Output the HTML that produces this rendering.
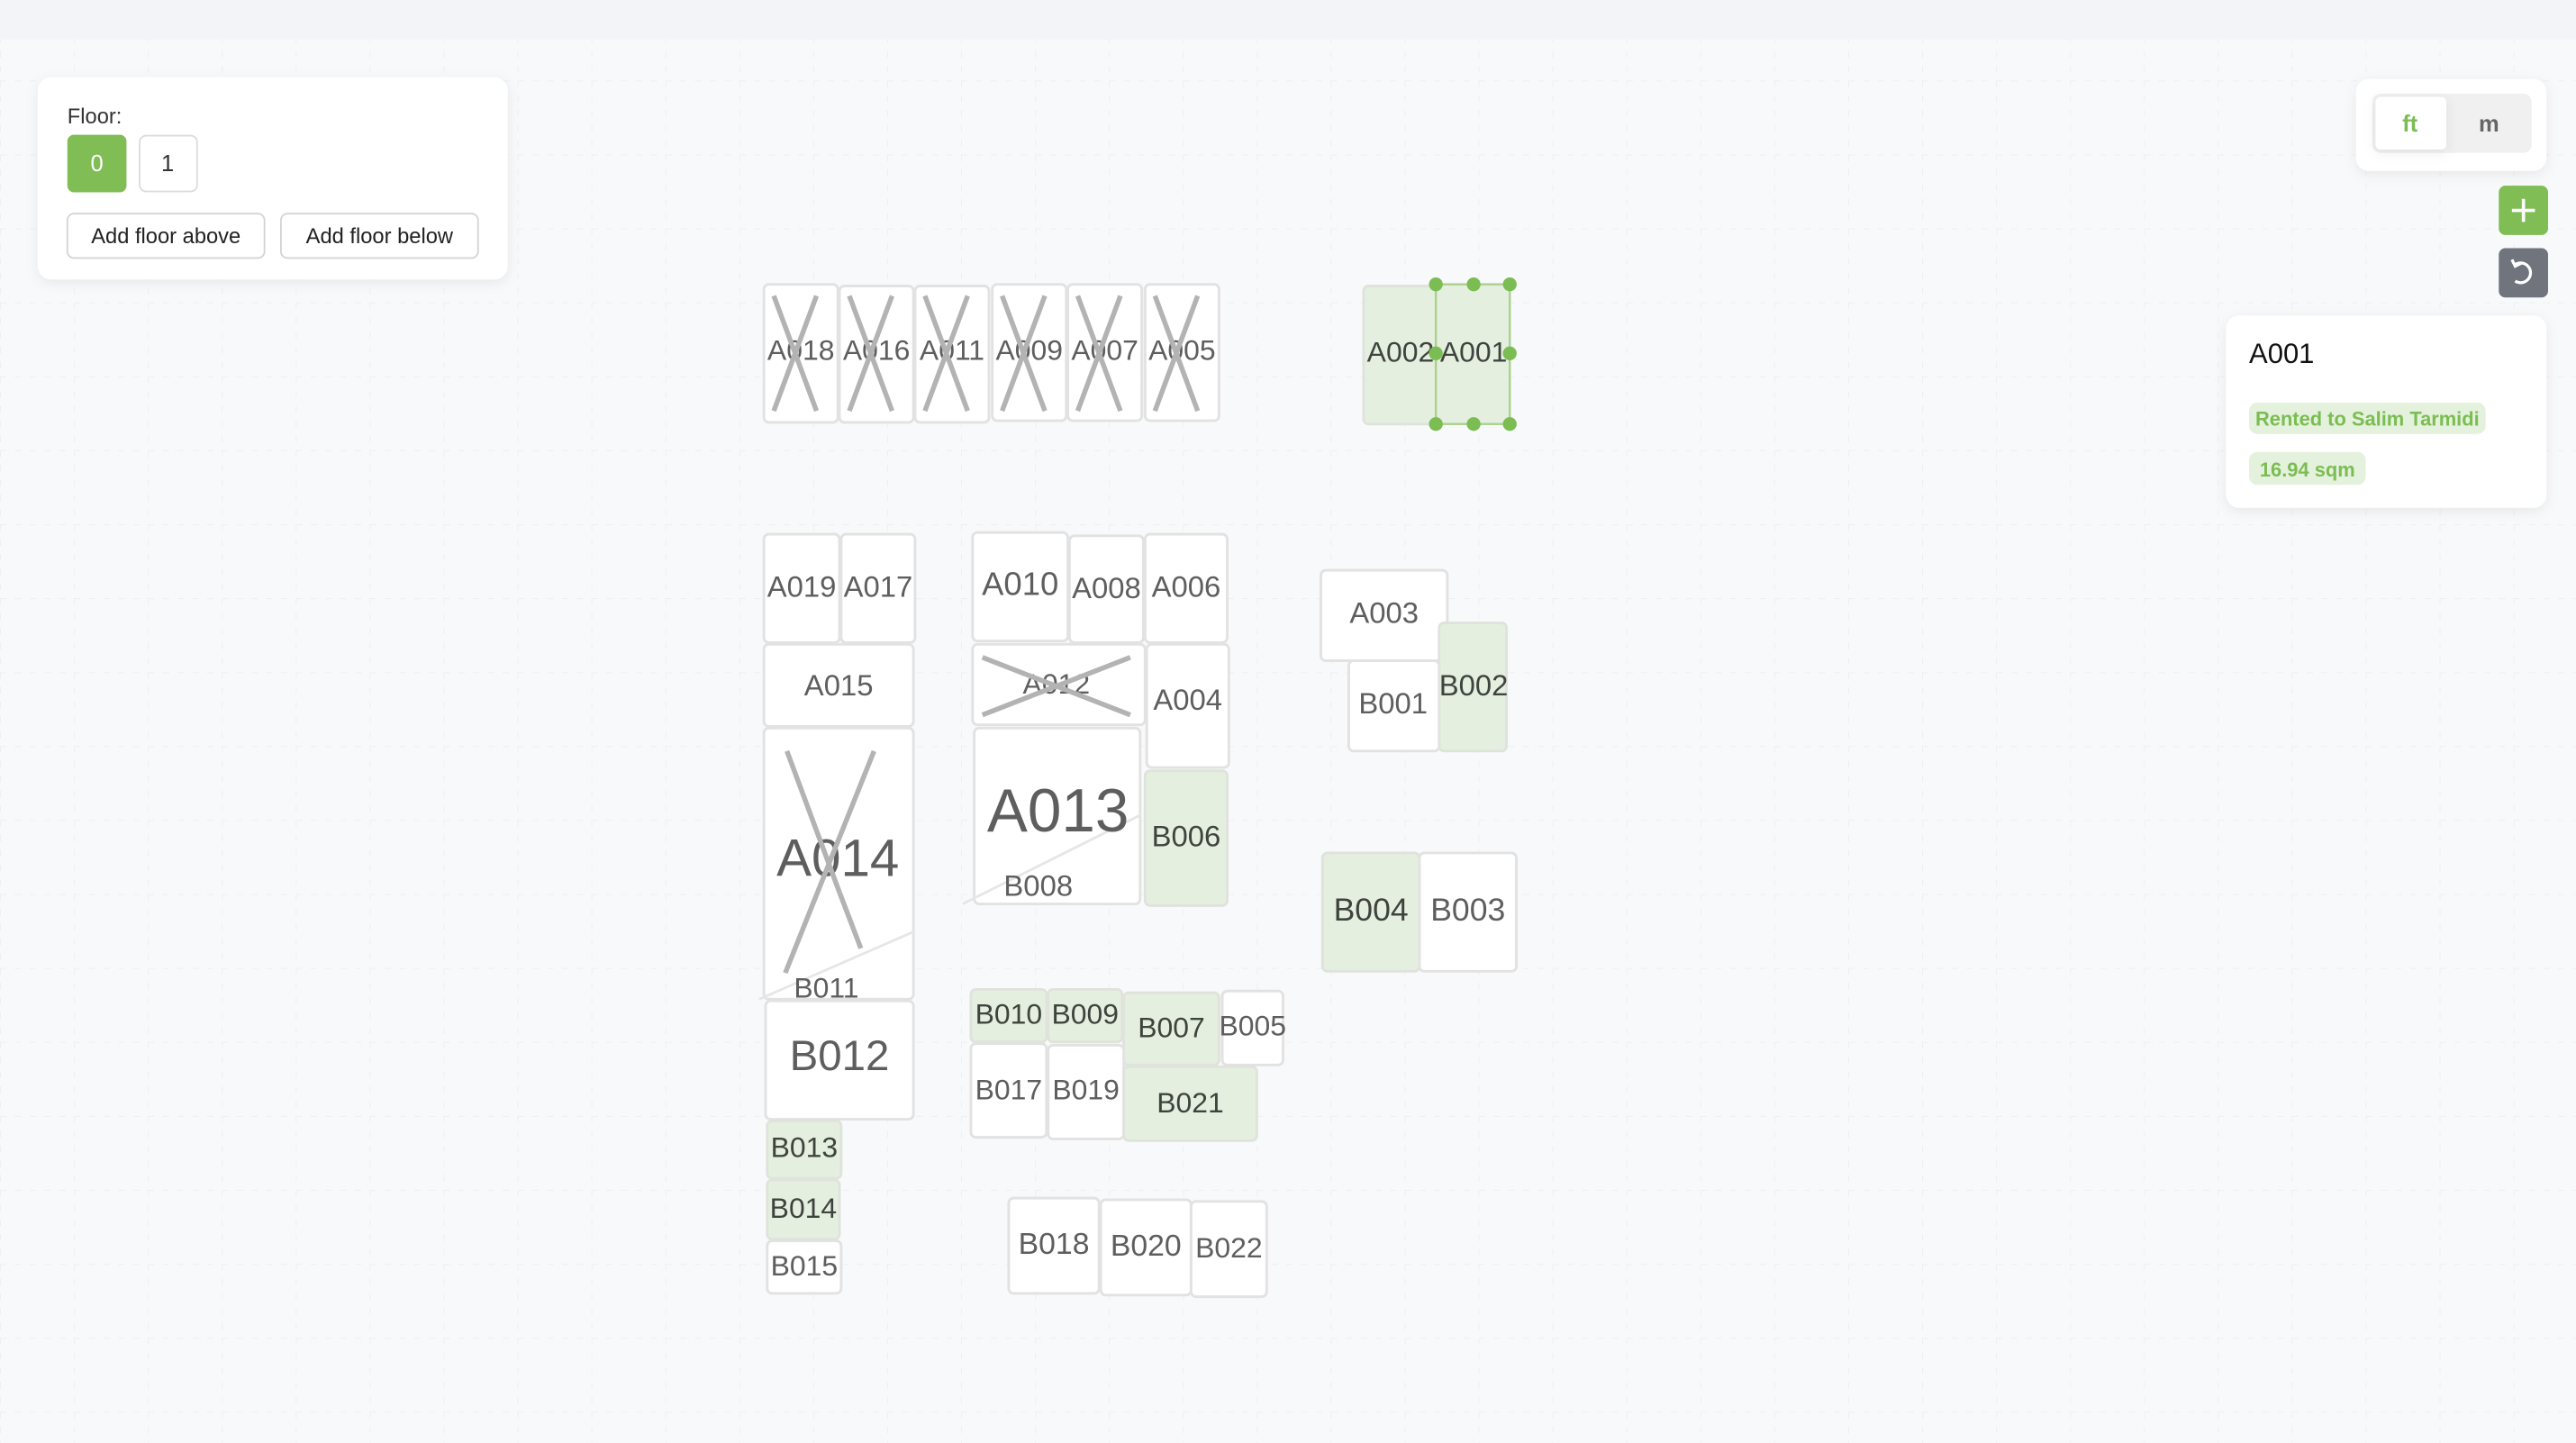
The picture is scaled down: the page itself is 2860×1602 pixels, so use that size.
<!DOCTYPE html>
<html><head><meta charset="utf-8"><style>
html,body{margin:0;padding:0;background:#f8f9fb;}
svg{display:block}
.r{fill:#fff;stroke:#e2e2e2;stroke-width:1.6}
.g{fill:#e5efdf;stroke:#dfe3dc;stroke-width:1.6}
.t{font-family:"Liberation Sans",sans-serif;fill:#5e5e5e;text-anchor:middle}
.tg{font-family:"Liberation Sans",sans-serif;fill:#3f433e;text-anchor:middle}
.x{stroke:#b3b3b3;stroke-width:3;fill:none}
.ui{font-family:"Liberation Sans",sans-serif}
</style></head><body>
<svg width="2860" height="1602" viewBox="0 0 1568 878" preserveAspectRatio="none" xmlns="http://www.w3.org/2000/svg">
<defs>
<pattern id="grid" width="45" height="45" patternUnits="userSpaceOnUse" x="0" y="4">
<path d="M0 0H45M0 0V45" stroke="#eceef2" stroke-width="1" stroke-dasharray="4 5" fill="none"/>
</pattern>
<filter id="sh" x="-20%" y="-20%" width="140%" height="150%"><feDropShadow dx="0" dy="2" stdDeviation="4" flood-color="#000" flood-opacity="0.07"/></filter>
</defs>
<rect width="1568" height="878" fill="#f8f9fb"/>
<rect width="1568" height="878" fill="url(#grid)"/>
<rect width="1568" height="24" fill="#f3f4f7"/>

<!-- floor panel -->
<rect x="23" y="47" width="286" height="123" rx="8" fill="#fff" filter="url(#sh)"/>
<text x="41" y="75" class="ui" font-size="13" fill="#333">Floor:</text>
<rect x="41" y="82" width="36" height="35" rx="4" fill="#80bd55"/>
<text x="59" y="104" class="ui" font-size="14" fill="#fff" text-anchor="middle">0</text>
<rect x="85" y="82.5" width="35" height="34" rx="4" fill="#fff" stroke="#dcdce0"/>
<text x="102" y="104" class="ui" font-size="14" fill="#333" text-anchor="middle">1</text>
<rect x="41" y="130" width="120" height="27" rx="4" fill="#fff" stroke="#d4d4d8"/>
<text x="101" y="148" class="ui" font-size="13" fill="#222" text-anchor="middle">Add floor above</text>
<rect x="171" y="130" width="120" height="27" rx="4" fill="#fff" stroke="#d4d4d8"/>
<text x="231" y="148" class="ui" font-size="13" fill="#222" text-anchor="middle">Add floor below</text>

<!-- unit toggle -->
<rect x="1434" y="48" width="116" height="56" rx="8" fill="#fff" filter="url(#sh)"/>
<rect x="1444" y="57" width="97" height="36" rx="5" fill="#f0f0f0"/>
<rect x="1446" y="59" width="43" height="32" rx="3" fill="#fff" filter="url(#sh)"/>
<text x="1467" y="80" class="ui" font-size="14" font-weight="bold" fill="#7bbd52" text-anchor="middle">ft</text>
<text x="1515" y="80" class="ui" font-size="14" font-weight="bold" fill="#666" text-anchor="middle">m</text>
<rect x="1521" y="113" width="30" height="30" rx="4" fill="#80bd55"/>
<path d="M1536 121V135M1529 128H1543" stroke="#fff" stroke-width="2"/>
<rect x="1521" y="151" width="30" height="30" rx="4" fill="#6f747d"/>
<path d="M1531 161 A6 6 0 1 1 1531 171" stroke="#fff" stroke-width="1.8" fill="none"/>
<path d="M1529 158 L1531 162 L1535 160" stroke="#fff" stroke-width="1.8" fill="none"/>

<!-- info card -->
<rect x="1355" y="192" width="195" height="117" rx="8" fill="#fff" filter="url(#sh)"/>
<text x="1369" y="221" class="ui" font-size="17" fill="#111">A001</text>
<rect x="1369" y="245" width="144" height="19" rx="5" fill="#e4f1dc"/>
<text x="1441" y="259" class="ui" font-size="12" font-weight="bold" fill="#7bbd52" text-anchor="middle">Rented to Salim Tarmidi</text>
<rect x="1369" y="275" width="71" height="20" rx="5" fill="#e4f1dc"/>
<text x="1404.5" y="290" class="ui" font-size="12" font-weight="bold" fill="#7bbd52" text-anchor="middle">16.94 sqm</text>

<!-- top row crossed -->
<g>
<rect class="r" x="465" y="173" width="45" height="84" rx="3"/>
<rect class="r" x="511" y="174" width="45" height="83" rx="3"/>
<rect class="r" x="557" y="174" width="45" height="83" rx="3"/>
<rect class="r" x="604" y="173" width="45" height="83" rx="3"/>
<rect class="r" x="650" y="173" width="45" height="83" rx="3"/>
<rect class="r" x="697" y="173" width="45" height="83" rx="3"/>
<text class="t" x="487.5" y="219" font-size="17.5">A018</text>
<text class="t" x="533.5" y="219" font-size="17.5">A016</text>
<text class="t" x="579.5" y="219" font-size="17.5">A011</text>
<text class="t" x="626.5" y="219" font-size="17.5">A009</text>
<text class="t" x="672.5" y="219" font-size="17.5">A007</text>
<text class="t" x="719.5" y="219" font-size="17.5">A005</text>
<path class="x" d="M471 180L497 250M497 180L471 250 M517 180L543 250M543 180L517 250 M563 180L589 250M589 180L563 250 M610 180L636 250M636 180L610 250 M656 180L682 250M682 180L656 250 M703 180L729 250M729 180L703 250"/>
</g>

<!-- A002 / A001 -->
<rect class="g" x="830" y="174" width="45" height="84" rx="3"/>
<rect x="874" y="173" width="45" height="85" fill="#e5efdf" stroke="#a9d18d" stroke-width="1.3"/>
<text class="tg" x="852.5" y="220" font-size="17.5">A002</text>
<text class="tg" x="897" y="220" font-size="17.5">A001</text>
<g fill="#7bbd52">
<circle cx="874" cy="173" r="4.2"/><circle cx="897" cy="173" r="4.2"/><circle cx="919" cy="173" r="4.2"/>
<circle cx="874" cy="215" r="4.2"/><circle cx="919" cy="215" r="4.2"/>
<circle cx="874" cy="258" r="4.2"/><circle cx="897" cy="258" r="4.2"/><circle cx="919" cy="258" r="4.2"/>
</g>

<!-- left column -->
<rect class="r" x="465" y="325" width="46" height="66" rx="3"/>
<rect class="r" x="512" y="325" width="45" height="66" rx="3"/>
<text class="t" x="488" y="363" font-size="18">A019</text>
<text class="t" x="534.5" y="363" font-size="18">A017</text>
<rect class="r" x="465" y="392" width="91" height="50" rx="3"/>
<text class="t" x="510.5" y="423" font-size="18">A015</text>
<rect class="r" x="465" y="443" width="91" height="165" rx="3"/>
<path d="M462 608L556 567" stroke="#e6e6e6" stroke-width="1.5"/>
<text class="t" x="510" y="533" font-size="32">A014</text>
<path class="x" d="M479 457L511 543M532 457L478 592"/>
<path class="x" d="M511 543L524 577"/>
<text class="t" x="503" y="607" font-size="17.5">B011</text>
<rect class="r" x="466" y="609" width="90" height="72" rx="3"/>
<text class="t" x="511" y="651" font-size="26">B012</text>
<rect class="g" x="467" y="682" width="45" height="35" rx="3"/>
<text class="tg" x="489.5" y="704" font-size="17.5">B013</text>
<rect class="g" x="467" y="718" width="44" height="36" rx="3"/>
<text class="tg" x="489" y="741" font-size="17.5">B014</text>
<rect class="r" x="467" y="755" width="45" height="32" rx="3"/>
<text class="t" x="489.5" y="776" font-size="17.5">B015</text>

<!-- middle block -->
<rect class="r" x="592" y="324" width="58" height="66" rx="3"/>
<text class="t" x="621" y="362" font-size="20">A010</text>
<rect class="r" x="651" y="326" width="45" height="65" rx="3"/>
<text class="t" x="673.5" y="364" font-size="18">A008</text>
<rect class="r" x="697" y="325" width="50" height="66" rx="3"/>
<text class="t" x="722" y="363" font-size="18">A006</text>
<rect class="r" x="592" y="392" width="105" height="49" rx="3"/>
<text class="t" x="643" y="422" font-size="17.5">A012</text>
<path class="x" d="M598 400L688 435M688 400L598 435"/>
<rect class="r" x="698" y="392" width="50" height="75" rx="3"/>
<text class="t" x="723" y="432" font-size="18">A004</text>
<rect class="r" x="593" y="443" width="101" height="107" rx="3"/>
<path d="M586 550L694 496" stroke="#e6e6e6" stroke-width="1.5"/>
<text class="t" x="644" y="506" font-size="37">A013</text>
<text class="t" x="632" y="545" font-size="18">B008</text>
<rect class="g" x="697" y="469" width="50" height="82" rx="3"/>
<text class="tg" x="722" y="515" font-size="18">B006</text>

<!-- right block -->
<rect class="r" x="804" y="347" width="77" height="55" rx="3"/>
<text class="t" x="842.5" y="379" font-size="18">A003</text>
<rect class="g" x="876" y="379" width="41" height="78" rx="3"/>
<text class="tg" x="897" y="423" font-size="18">B002</text>
<rect class="r" x="821" y="402" width="55" height="55" rx="3"/>
<text class="t" x="848" y="434" font-size="18">B001</text>
<rect class="g" x="805" y="519" width="59" height="72" rx="3"/>
<text class="tg" x="834.5" y="560" font-size="19.5">B004</text>
<rect class="r" x="864" y="519" width="59" height="72" rx="3"/>
<text class="t" x="893.5" y="560" font-size="19.5">B003</text>

<!-- lower middle -->
<rect class="g" x="591" y="602" width="46" height="32" rx="3"/>
<text class="tg" x="614" y="623" font-size="17.5">B010</text>
<rect class="g" x="638" y="602" width="45" height="32" rx="3"/>
<text class="tg" x="660.5" y="623" font-size="17.5">B009</text>
<rect class="g" x="684" y="604" width="58" height="44" rx="3"/>
<text class="tg" x="713" y="631" font-size="17.5">B007</text>
<rect class="r" x="744" y="603" width="37" height="45" rx="3"/>
<text class="t" x="762.5" y="630" font-size="17.5">B005</text>
<rect class="r" x="591" y="635" width="46" height="57" rx="3"/>
<text class="t" x="614" y="669" font-size="17.5">B017</text>
<rect class="r" x="638" y="636" width="46" height="57" rx="3"/>
<text class="t" x="661" y="669" font-size="17.5">B019</text>
<rect class="g" x="684" y="649" width="81" height="45" rx="3"/>
<text class="tg" x="724.5" y="677" font-size="17.5">B021</text>

<rect class="r" x="614" y="729" width="55" height="58" rx="3"/>
<text class="t" x="641.5" y="763" font-size="18.5">B018</text>
<rect class="r" x="670" y="730" width="55" height="58" rx="3"/>
<text class="t" x="697.5" y="764" font-size="18.5">B020</text>
<rect class="r" x="725" y="731" width="46" height="58" rx="3"/>
<text class="t" x="748" y="765" font-size="17.5">B022</text>
</svg>
</body></html>
